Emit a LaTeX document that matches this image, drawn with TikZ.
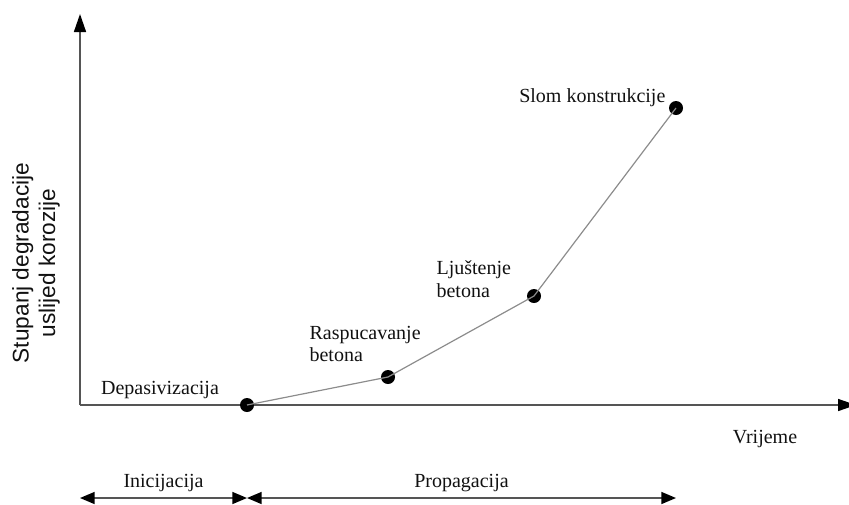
\documentclass[tikz,border=0pt]{standalone}
\usepackage{fontspec}
\setmainfont{Liberation Serif}
\newfontfamily\axisfont{Liberation Sans}
\usepackage{xcolor}
\usetikzlibrary{arrows.meta,positioning}
\definecolor{ink}{HTML}{111111}
\definecolor{axisgray}{HTML}{555555}
\definecolor{curvegray}{HTML}{8C8C8C}

\begin{document}
\begin{tikzpicture}[
  x=0.75pt,y=-0.75pt,
  font=\fontsize{15}{17}\selectfont,
  axis/.style={draw=axisgray,line width=1.1pt,
    -{Triangle[length=13.5pt,width=9pt,color=black]}},
  phase/.style={draw=axisgray,line width=1.1pt,
    {Triangle[length=11pt,width=9pt,color=black]}-{Triangle[length=11pt,width=9pt,color=black]}},
  curve/.style={draw=curvegray,line width=0.9pt},
  dot/.style={circle,fill=black,inner sep=0pt,minimum size=10.5pt},
  stage/.style={text=ink,align=left,inner sep=1pt}
]
  \useasboundingbox (0,0) rectangle (849,504);

  % axes
  \coordinate (origin) at (80,405);
  \coordinate (ytip) at (80,14);
  \coordinate (xtip) at (856,405);
  \draw[axis] (origin) -- (ytip);
  \draw[axis] (origin) -- (xtip);

  \node[text=ink,anchor=center] (time) at (765,439) {Vrijeme};
  \node[rotate=90,align=center,text=ink,font=\axisfont\fontsize{17}{20}\selectfont]
    (degr) at (36,263) {Stupanj degradacije\\uslijed korozije};

  % stages of degradation
  \node[dot] (dep) at (247,405) {};
  \node[dot] (rasp) at (388,377) {};
  \node[dot] (ljus) at (534,296) {};
  \node[dot] (slom) at (676,108) {};

  \draw[curve] (dep.center) -- (rasp.center) -- (ljus.center) -- (slom.center);

  \node[stage] (deplab) at (160,390) {Depasivizacija};
  \node[stage,anchor=west] (rasplab) at (308,344) {Raspucavanje\\betona};
  \node[stage,anchor=west] (ljuslab) at (435,279) {Ljuštenje\\betona};
  \node[stage,anchor=east] (slomlab) at (667,98) {Slom konstrukcije};

  % phases
  \coordinate (inistart) at (80,498);
  \coordinate (inistop) at (247,498);
  \coordinate (propstop) at (676,498);
  \draw[phase] (inistart) -- node[text=ink,above=1pt] (ini) {Inicijacija} (inistop);
  \draw[phase] (inistop) -- node[text=ink,above=1pt] (prop) {Propagacija} (propstop);
\end{tikzpicture}
\end{document}
